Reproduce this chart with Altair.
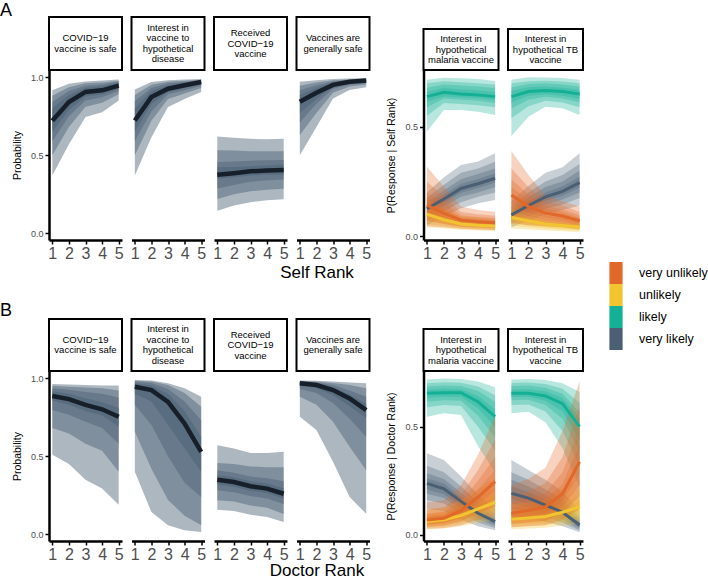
import altair as alt
import pandas as pd

FONT = "Liberation Sans"
X = [1, 2, 3, 4, 5]
RESPONSES = ["very unlikely", "unlikely", "likely", "very likely"]
RESP_COLORS = ["#E0692A", "#F2C430", "#14B095", "#4A5F73"]
SLATE = "#4A5F73"
DARK = "#17202A"

# rows: x = 1..5 ; values: [median, 95lo, 95hi, 80lo, 80hi, 66lo, 66hi, 50lo, 50hi]
A_covid_safe = [
    [0.72, 0.37, 0.915, 0.50, 0.88, 0.59, 0.84, 0.65, 0.80],
    [0.84, 0.57, 0.957, 0.68, 0.935, 0.75, 0.91, 0.79, 0.885],
    [0.905, 0.745, 0.972, 0.81, 0.96, 0.85, 0.945, 0.875, 0.93],
    [0.915, 0.775, 0.978, 0.835, 0.965, 0.87, 0.952, 0.89, 0.94],
    [0.945, 0.85, 0.985, 0.89, 0.977, 0.91, 0.97, 0.925, 0.962]]
A_interest_hyp = [
    [0.722, 0.37, 0.92, 0.50, 0.885, 0.59, 0.845, 0.65, 0.80],
    [0.872, 0.615, 0.968, 0.72, 0.95, 0.78, 0.93, 0.83, 0.91],
    [0.925, 0.808, 0.98, 0.86, 0.97, 0.89, 0.96, 0.905, 0.945],
    [0.947, 0.86, 0.984, 0.895, 0.976, 0.915, 0.968, 0.93, 0.96],
    [0.968, 0.904, 0.988, 0.93, 0.983, 0.945, 0.978, 0.955, 0.975]]
A_received = [
    [0.375, 0.145, 0.62, 0.22, 0.532, 0.287, 0.457, 0.35, 0.425],
    [0.385, 0.178, 0.612, 0.25, 0.53, 0.31, 0.46, 0.36, 0.425],
    [0.397, 0.2, 0.605, 0.27, 0.525, 0.33, 0.465, 0.37, 0.43],
    [0.402, 0.212, 0.603, 0.28, 0.525, 0.34, 0.468, 0.375, 0.435],
    [0.405, 0.218, 0.605, 0.285, 0.525, 0.345, 0.47, 0.375, 0.44]]
A_vacc_safe = [
    [0.842, 0.50, 0.97, 0.63, 0.945, 0.71, 0.915, 0.77, 0.885],
    [0.90, 0.68, 0.98, 0.77, 0.965, 0.83, 0.948, 0.86, 0.93],
    [0.95, 0.863, 0.987, 0.9, 0.98, 0.925, 0.972, 0.94, 0.965],
    [0.97, 0.917, 0.99, 0.94, 0.985, 0.952, 0.98, 0.96, 0.977],
    [0.978, 0.934, 0.992, 0.952, 0.988, 0.962, 0.984, 0.968, 0.982]]

B_covid_safe = [
    [0.885, 0.51, 0.962, 0.68, 0.95, 0.795, 0.935, 0.855, 0.915],
    [0.865, 0.45, 0.958, 0.645, 0.945, 0.765, 0.925, 0.83, 0.90],
    [0.828, 0.35, 0.955, 0.58, 0.94, 0.72, 0.91, 0.79, 0.87],
    [0.80, 0.293, 0.953, 0.535, 0.935, 0.68, 0.90, 0.76, 0.845],
    [0.752, 0.19, 0.952, 0.40, 0.92, 0.58, 0.875, 0.69, 0.81]]
B_interest_hyp = [
    [0.944, 0.40, 0.987, 0.656, 0.982, 0.83, 0.975, 0.90, 0.965],
    [0.923, 0.143, 0.985, 0.42, 0.978, 0.70, 0.968, 0.85, 0.952],
    [0.848, 0.058, 0.966, 0.22, 0.955, 0.50, 0.93, 0.70, 0.90],
    [0.709, 0.026, 0.934, 0.12, 0.905, 0.33, 0.85, 0.55, 0.79],
    [0.528, 0.015, 0.88, 0.058, 0.816, 0.24, 0.73, 0.40, 0.624]]
B_received = [
    [0.35, 0.158, 0.57, 0.218, 0.457, 0.282, 0.41, 0.32, 0.378],
    [0.335, 0.15, 0.55, 0.21, 0.45, 0.27, 0.395, 0.305, 0.365],
    [0.308, 0.126, 0.52, 0.185, 0.435, 0.245, 0.37, 0.28, 0.34],
    [0.293, 0.111, 0.52, 0.17, 0.43, 0.23, 0.36, 0.265, 0.325],
    [0.26, 0.079, 0.528, 0.13, 0.43, 0.195, 0.34, 0.23, 0.295]]
B_vacc_safe = [
    [0.966, 0.752, 0.984, 0.88, 0.98, 0.93, 0.977, 0.95, 0.973],
    [0.955, 0.667, 0.983, 0.83, 0.978, 0.905, 0.972, 0.935, 0.965],
    [0.923, 0.464, 0.978, 0.72, 0.968, 0.84, 0.955, 0.89, 0.94],
    [0.87, 0.239, 0.972, 0.56, 0.955, 0.74, 0.92, 0.82, 0.895],
    [0.795, 0.132, 0.966, 0.41, 0.934, 0.624, 0.88, 0.745, 0.835]]

# right panels, panel A (Self Rank)
A_mal_vu = [
    [0.142, 0.045, 0.318, 0.07, 0.25, 0.09, 0.2, 0.11, 0.175],
    [0.104, 0.04, 0.226, 0.055, 0.18, 0.07, 0.15, 0.085, 0.125],
    [0.073, 0.033, 0.135, 0.043, 0.11, 0.053, 0.095, 0.062, 0.085],
    [0.066, 0.03, 0.12, 0.04, 0.1, 0.049, 0.087, 0.056, 0.078],
    [0.061, 0.028, 0.112, 0.037, 0.093, 0.045, 0.081, 0.052, 0.072]]
A_mal_u = [
    [0.1, 0.04, 0.17, 0.055, 0.145, 0.07, 0.13, 0.085, 0.115],
    [0.075, 0.035, 0.125, 0.045, 0.108, 0.055, 0.095, 0.063, 0.087],
    [0.055, 0.028, 0.09, 0.035, 0.078, 0.042, 0.07, 0.048, 0.063],
    [0.05, 0.025, 0.085, 0.031, 0.072, 0.037, 0.064, 0.043, 0.058],
    [0.046, 0.022, 0.08, 0.028, 0.068, 0.034, 0.06, 0.039, 0.054]]
A_mal_l = [
    [0.639, 0.479, 0.716, 0.55, 0.70, 0.59, 0.68, 0.615, 0.66],
    [0.659, 0.578, 0.726, 0.61, 0.71, 0.63, 0.695, 0.64, 0.68],
    [0.651, 0.578, 0.723, 0.605, 0.705, 0.625, 0.69, 0.635, 0.672],
    [0.647, 0.57, 0.72, 0.6, 0.7, 0.62, 0.685, 0.632, 0.668],
    [0.639, 0.555, 0.711, 0.59, 0.695, 0.61, 0.678, 0.623, 0.66]]
A_mal_vl = [
    [0.125, 0.05, 0.2, 0.07, 0.175, 0.09, 0.155, 0.105, 0.145],
    [0.17, 0.09, 0.27, 0.115, 0.235, 0.135, 0.21, 0.15, 0.19],
    [0.218, 0.127, 0.326, 0.155, 0.29, 0.18, 0.26, 0.198, 0.24],
    [0.24, 0.15, 0.342, 0.18, 0.31, 0.2, 0.285, 0.22, 0.262],
    [0.265, 0.165, 0.38, 0.2, 0.34, 0.225, 0.31, 0.245, 0.288]]
A_tb_vu = [
    [0.188, 0.06, 0.39, 0.095, 0.31, 0.125, 0.26, 0.15, 0.225],
    [0.135, 0.05, 0.28, 0.07, 0.225, 0.09, 0.19, 0.108, 0.165],
    [0.105, 0.045, 0.185, 0.06, 0.16, 0.072, 0.14, 0.085, 0.125],
    [0.092, 0.04, 0.16, 0.052, 0.14, 0.064, 0.122, 0.074, 0.11],
    [0.07, 0.03, 0.135, 0.04, 0.11, 0.05, 0.095, 0.058, 0.084]]
A_tb_u = [
    [0.085, 0.035, 0.15, 0.048, 0.128, 0.06, 0.112, 0.07, 0.1],
    [0.07, 0.03, 0.12, 0.04, 0.103, 0.05, 0.09, 0.058, 0.082],
    [0.055, 0.025, 0.095, 0.033, 0.08, 0.04, 0.07, 0.046, 0.064],
    [0.048, 0.022, 0.085, 0.029, 0.072, 0.035, 0.063, 0.04, 0.056],
    [0.042, 0.018, 0.078, 0.024, 0.066, 0.03, 0.057, 0.035, 0.05]]
A_tb_l = [
    [0.639, 0.459, 0.716, 0.54, 0.70, 0.585, 0.682, 0.612, 0.665],
    [0.662, 0.547, 0.728, 0.595, 0.71, 0.625, 0.697, 0.643, 0.682],
    [0.667, 0.593, 0.727, 0.62, 0.712, 0.638, 0.7, 0.65, 0.685],
    [0.662, 0.586, 0.724, 0.612, 0.708, 0.63, 0.695, 0.643, 0.68],
    [0.651, 0.555, 0.716, 0.59, 0.7, 0.612, 0.685, 0.628, 0.67]]
A_tb_vl = [
    [0.097, 0.04, 0.16, 0.055, 0.135, 0.07, 0.12, 0.083, 0.11],
    [0.14, 0.07, 0.23, 0.09, 0.2, 0.108, 0.178, 0.122, 0.16],
    [0.18, 0.1, 0.29, 0.125, 0.25, 0.145, 0.225, 0.162, 0.2],
    [0.205, 0.12, 0.315, 0.145, 0.28, 0.168, 0.25, 0.185, 0.228],
    [0.245, 0.14, 0.38, 0.175, 0.33, 0.2, 0.3, 0.222, 0.272]]

# right panels, panel B (Doctor Rank)
B_mal_vu = [
    [0.069, 0.028, 0.15, 0.038, 0.118, 0.048, 0.098, 0.057, 0.085],
    [0.077, 0.032, 0.16, 0.043, 0.128, 0.054, 0.108, 0.064, 0.094],
    [0.112, 0.045, 0.23, 0.062, 0.185, 0.078, 0.155, 0.092, 0.135],
    [0.175, 0.07, 0.37, 0.1, 0.3, 0.125, 0.25, 0.148, 0.21],
    [0.246, 0.09, 0.55, 0.13, 0.44, 0.165, 0.36, 0.2, 0.3]]
B_mal_u = [
    [0.062, 0.025, 0.115, 0.034, 0.095, 0.043, 0.083, 0.051, 0.075],
    [0.07, 0.03, 0.125, 0.04, 0.105, 0.05, 0.092, 0.058, 0.083],
    [0.09, 0.04, 0.16, 0.053, 0.135, 0.065, 0.118, 0.075, 0.105],
    [0.12, 0.055, 0.21, 0.072, 0.178, 0.088, 0.155, 0.1, 0.14],
    [0.15, 0.068, 0.26, 0.09, 0.22, 0.11, 0.192, 0.125, 0.172]]
B_mal_l = [
    [0.654, 0.546, 0.718, 0.59, 0.7, 0.615, 0.685, 0.632, 0.672],
    [0.657, 0.562, 0.722, 0.6, 0.705, 0.622, 0.69, 0.638, 0.675],
    [0.657, 0.554, 0.72, 0.595, 0.703, 0.62, 0.688, 0.637, 0.673],
    [0.615, 0.41, 0.708, 0.5, 0.685, 0.55, 0.665, 0.585, 0.642],
    [0.546, 0.29, 0.682, 0.39, 0.645, 0.45, 0.615, 0.5, 0.58]]
B_mal_vl = [
    [0.238, 0.12, 0.377, 0.16, 0.32, 0.19, 0.285, 0.21, 0.262],
    [0.213, 0.11, 0.346, 0.145, 0.29, 0.17, 0.258, 0.188, 0.237],
    [0.155, 0.07, 0.27, 0.098, 0.225, 0.12, 0.195, 0.135, 0.175],
    [0.1, 0.04, 0.185, 0.058, 0.152, 0.072, 0.13, 0.085, 0.115],
    [0.062, 0.022, 0.12, 0.032, 0.098, 0.042, 0.083, 0.05, 0.073]]
B_tb_vu = [
    [0.1, 0.035, 0.23, 0.05, 0.18, 0.065, 0.15, 0.078, 0.127],
    [0.113, 0.04, 0.26, 0.058, 0.2, 0.073, 0.168, 0.088, 0.142],
    [0.13, 0.045, 0.31, 0.065, 0.24, 0.083, 0.195, 0.1, 0.165],
    [0.19, 0.07, 0.48, 0.1, 0.36, 0.13, 0.29, 0.155, 0.235],
    [0.338, 0.12, 0.71, 0.18, 0.6, 0.23, 0.5, 0.28, 0.42]]
B_tb_u = [
    [0.072, 0.025, 0.14, 0.036, 0.115, 0.048, 0.1, 0.058, 0.088],
    [0.078, 0.03, 0.15, 0.042, 0.123, 0.053, 0.107, 0.063, 0.095],
    [0.085, 0.033, 0.165, 0.046, 0.135, 0.058, 0.117, 0.068, 0.103],
    [0.105, 0.042, 0.21, 0.058, 0.17, 0.072, 0.145, 0.085, 0.127],
    [0.13, 0.05, 0.27, 0.07, 0.215, 0.088, 0.18, 0.105, 0.158]]
B_tb_l = [
    [0.654, 0.562, 0.718, 0.6, 0.702, 0.622, 0.688, 0.637, 0.672],
    [0.654, 0.569, 0.72, 0.602, 0.704, 0.624, 0.69, 0.638, 0.673],
    [0.642, 0.52, 0.716, 0.57, 0.697, 0.6, 0.68, 0.62, 0.663],
    [0.606, 0.4, 0.7, 0.48, 0.675, 0.535, 0.652, 0.57, 0.632],
    [0.5, 0.22, 0.66, 0.32, 0.61, 0.385, 0.567, 0.44, 0.54]]
B_tb_vl = [
    [0.192, 0.09, 0.346, 0.12, 0.29, 0.145, 0.255, 0.165, 0.225],
    [0.17, 0.08, 0.3, 0.105, 0.255, 0.127, 0.225, 0.145, 0.198],
    [0.138, 0.06, 0.255, 0.082, 0.21, 0.1, 0.183, 0.116, 0.162],
    [0.105, 0.04, 0.2, 0.057, 0.165, 0.072, 0.143, 0.085, 0.125],
    [0.046, 0.012, 0.11, 0.02, 0.085, 0.028, 0.07, 0.035, 0.058]]

STRIP_LEFT = [
    ["COVID\u221219", "vaccine is safe"],
    ["Interest in", "vaccine to", "hypothetical", "disease"],
    ["Received", "COVID\u221219", "vaccine"],
    ["Vaccines are", "generally safe"],
]
STRIP_RIGHT = [
    ["Interest in", "hypothetical", "malaria vaccine"],
    ["Interest in", "hypothetical TB", "vaccine"],
]

WL, WR, H = 73, 75, 170
LH = 10.5
LEFT_DOM = [-0.042, 1.045]
RIGHT_DOM_A = [-0.018, 0.761]
RIGHT_DOM_B = [-0.028, 0.757]
ONE = pd.DataFrame({"k": [0]})


def panel(series, W, ydom, strip_lines, strip_h, colored, yticks=None,
          ytitle=None, xtitle=None, xtitle_x=0, xtitle_y=32, letter=None, letter_y=-70):
    brec, lrec = [], []
    for resp, rows in series:
        hexcol = RESP_COLORS[RESPONSES.index(resp)] if colored else DARK
        for x, r in zip(X, rows):
            lrec.append({"x": x, "mid": r[0], "resp": resp, "hex": hexcol})
            for k in range(4):
                brec.append({"x": x, "lo": r[1 + 2 * k], "hi": r[2 + 2 * k],
                             "resp": resp, "grp": f"{resp}|{k}"})
    bdf, ldf = pd.DataFrame(brec), pd.DataFrame(lrec)

    xkw = dict(values=X, format="d", labelFontSize=16, labelColor="#4d4d4d",
               labelPadding=1, tickSize=4, tickWidth=1.5, tickColor="black",
               domainColor="black", domainWidth=2.5, labelFlush=False,
               labelOverlap=False, grid=False)
    if xtitle:
        xkw.update(titleX=xtitle_x, titleY=xtitle_y, titleFontSize=17,
                   titleFontWeight="normal", titleBaseline="middle",
                   titleAlign="center", titleColor="black")
    xenc = alt.X("x:Q", scale=alt.Scale(domain=[0.8, 5.2], nice=False),
                 axis=alt.Axis(**xkw), title=xtitle if xtitle else None)
    yscale = alt.Scale(domain=ydom, nice=False, zero=False)
    if yticks is not None:
        yaxis = alt.Axis(values=yticks, format=".1f", labelFontSize=9,
                         labelColor="#4d4d4d", labelPadding=2, tickSize=4,
                         tickWidth=1.5, tickColor="black", domainColor="black",
                         domainWidth=2.5, grid=False, labelFlush=False,
                         titleX=-32, titleY=H / 2, titleFontSize=10.5,
                         titleFontWeight="normal", titleBaseline="middle",
                         titleAlign="center", titleColor="black")
    else:
        yaxis = None

    if colored:
        color = alt.Color("resp:N", scale=alt.Scale(domain=RESPONSES, range=RESP_COLORS),
                          legend=alt.Legend(title=None, orient="none", legendX=556,
                                            legendY=192,
                                            symbolType="M-0.6,-1H0.6V1H-0.6Z",
                                            symbolSize=484, symbolOpacity=1,
                                            symbolStrokeWidth=0, labelFontSize=12.5,
                                            labelFont=FONT, labelColor="black",
                                            rowPadding=0, labelOffset=12))
        op, lw = 0.3, 3
    else:
        color = alt.value(SLATE)
        op, lw = 0.45, 4.5

    bands = alt.Chart(bdf).mark_area(opacity=op).encode(
        x=xenc, y=alt.Y("lo:Q", scale=yscale, axis=yaxis, title=ytitle if ytitle else None, stack=None),
        y2="hi:Q", detail="grp:N", color=color)
    lines = alt.Chart(ldf).mark_line(strokeWidth=lw).encode(
        x=xenc, y=alt.Y("mid:Q", scale=yscale, axis=yaxis, title=ytitle if ytitle else None),
        detail="resp:N", color=alt.Color("hex:N", scale=None))
    strip = alt.Chart(ONE).mark_rect(fill="white", stroke="black", strokeWidth=2).encode(
        x=alt.value(0), x2=alt.value(W), y=alt.value(-strip_h), y2=alt.value(0))
    n = len(strip_lines)
    stext = alt.Chart(ONE).mark_text(text=strip_lines, fontSize=9.5, font=FONT,
                                     lineHeight=LH, align="center", baseline="middle",
                                     color="black").encode(
        x=alt.value(W / 2), y=alt.value(-strip_h / 2 - (n - 1) * LH / 2))
    layers = [bands, lines, strip, stext]
    if letter:
        layers.append(alt.Chart(ONE).mark_text(text=letter, fontSize=18, font=FONT,
                                               align="left", baseline="top",
                                               color="black").encode(
            x=alt.value(-49), y=alt.value(letter_y)))
    return alt.layer(*layers).properties(width=W, height=H)


def spacer():
    return alt.Chart(ONE).mark_text(text="").properties(width=35, height=H)


rowA = [
    panel([("p", A_covid_safe)], WL, LEFT_DOM, STRIP_LEFT[0], 53, False,
          yticks=[0, 0.5, 1], ytitle="Probability", letter="A", letter_y=-68),
    panel([("p", A_interest_hyp)], WL, LEFT_DOM, STRIP_LEFT[1], 53, False),
    panel([("p", A_received)], WL, LEFT_DOM, STRIP_LEFT[2], 53, False),
    panel([("p", A_vacc_safe)], WL, LEFT_DOM, STRIP_LEFT[3], 53, False,
          xtitle="Self Rank", xtitle_x=20, xtitle_y=32),
    spacer(),
    panel([("very likely", A_mal_vl), ("likely", A_mal_l), ("unlikely", A_mal_u),
           ("very unlikely", A_mal_vu)], WR, RIGHT_DOM_A, STRIP_RIGHT[0], 41, True,
          yticks=[0, 0.5], ytitle="P(Response | Self Rank)"),
    panel([("very likely", A_tb_vl), ("likely", A_tb_l), ("unlikely", A_tb_u),
           ("very unlikely", A_tb_vu)], WR, RIGHT_DOM_A, STRIP_RIGHT[1], 41, True),
]
rowB = [
    panel([("p", B_covid_safe)], WL, LEFT_DOM, STRIP_LEFT[0], 52, False,
          yticks=[0, 0.5, 1], ytitle="Probability", letter="B", letter_y=-69),
    panel([("p", B_interest_hyp)], WL, LEFT_DOM, STRIP_LEFT[1], 52, False),
    panel([("p", B_received)], WL, LEFT_DOM, STRIP_LEFT[2], 52, False),
    panel([("p", B_vacc_safe)], WL, LEFT_DOM, STRIP_LEFT[3], 52, False,
          xtitle="Doctor Rank", xtitle_x=20, xtitle_y=29.5),
    spacer(),
    panel([("very likely", B_mal_vl), ("likely", B_mal_l), ("unlikely", B_mal_u),
           ("very unlikely", B_mal_vu)], WR, RIGHT_DOM_B, STRIP_RIGHT[0], 42, True,
          yticks=[0, 0.5], ytitle="P(Response | Doctor Rank)"),
    panel([("very likely", B_tb_vl), ("likely", B_tb_l), ("unlikely", B_tb_u),
           ("very unlikely", B_tb_vu)], WR, RIGHT_DOM_B, STRIP_RIGHT[1], 42, True),
]

chart = alt.concat(*rowA, *rowB, columns=7, spacing=alt.RowColnumber(row=131, column=9.5),
                   bounds="flush", align="each").properties(
    padding={"top": 2, "left": 0, "right": 0, "bottom": 0}).configure_view(
    stroke=None).configure_axis(labelFont=FONT, titleFont=FONT)

chart.save("out.html", embed_options={"renderer": "svg", "actions": False})
